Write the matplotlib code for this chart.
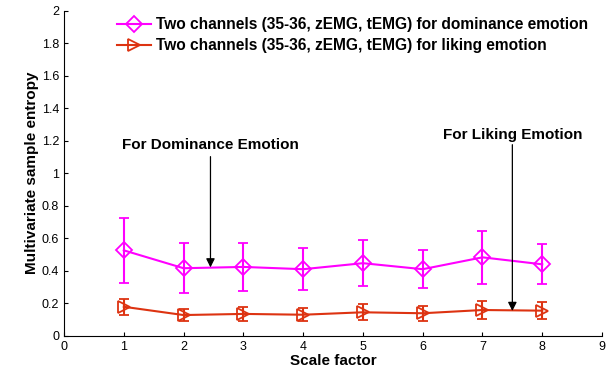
import matplotlib.pyplot as plt
from matplotlib.lines import Line2D
import numpy as np

plt.rcParams['font.family'] = ['Liberation Sans', 'DejaVu Sans']

scales = [1, 2, 3, 4, 5, 6, 7, 8]
dom_mean = [0.525, 0.415, 0.423, 0.409, 0.446, 0.409, 0.482, 0.439]
dom_err = [0.20, 0.153, 0.147, 0.13, 0.14, 0.117, 0.165, 0.123]
lik_mean = [0.178, 0.127, 0.134, 0.129, 0.144, 0.138, 0.158, 0.154]
lik_err = [0.05, 0.036, 0.043, 0.04, 0.05, 0.046, 0.056, 0.054]

lab_dom = 'Two channels (35-36, zEMG, tEMG) for dominance emotion'
lab_lik = 'Two channels (35-36, zEMG, tEMG) for liking emotion'

fig = plt.figure(figsize=(6.12, 3.73), dpi=100)
ax = fig.add_axes([0.1046, 0.1, 0.8791, 0.8718])

mag = (1, 0, 1)
red = '#DD3311'
style = dict(markerfacecolor='none', markeredgewidth=1.3, linewidth=1.5,
             capsize=3.5, capthick=1.5, elinewidth=1.5)
ax.errorbar(scales, dom_mean, yerr=dom_err, color=mag, marker='D', markersize=8, **style)
ax.errorbar(scales, lik_mean, yerr=lik_err, color=red, marker='>', markersize=9, **style)

ax.annotate('For Dominance Emotion', xy=(2.45, 0.42), xytext=(2.45, 1.17),
            ha='center', va='center', fontsize=11, fontweight='bold',
            arrowprops=dict(arrowstyle='-|>', color='k', lw=0.9,
                            shrinkA=1, shrinkB=0, mutation_scale=13))
ax.annotate('For Liking Emotion', xy=(7.5, 0.152), xytext=(7.5, 1.235),
            ha='center', va='center', fontsize=11, fontweight='bold',
            arrowprops=dict(arrowstyle='-|>', color='k', lw=0.9,
                            shrinkA=0, shrinkB=0, mutation_scale=13))

ax.set_xlim(0, 9)
ax.set_ylim(0, 2)
ax.set_xticks(range(0, 10))
ax.set_yticks(np.arange(0, 2.01, 0.2))
ax.set_yticklabels(['%g' % round(v, 1) for v in np.arange(0, 2.01, 0.2)])
ax.tick_params(direction='in', length=3, labelsize=9, colors='k')
for s in ['top', 'right']:
    ax.spines[s].set_visible(False)
ax.set_xlabel('Scale factor', fontsize=11, fontweight='bold', labelpad=1)
ax.set_ylabel('Multivariate sample entropy', fontsize=11, fontweight='bold', labelpad=2)

handles = [Line2D([], [], color=mag, marker='D', markersize=8, markerfacecolor='none',
                  markeredgewidth=1.3, linewidth=1.5),
           Line2D([], [], color=red, marker='>', markersize=9, markerfacecolor='none',
                  markeredgewidth=1.3, linewidth=1.5)]
ax.legend(handles, [lab_dom, lab_lik], loc='upper left', bbox_to_anchor=(0.0985, 0.98),
          frameon=False, prop={'size': 11.2, 'weight': 'bold'}, handlelength=2.2,
          handletextpad=0.3, labelspacing=0.4, borderpad=0, borderaxespad=0)

fig.savefig('out.png', dpi=100)
